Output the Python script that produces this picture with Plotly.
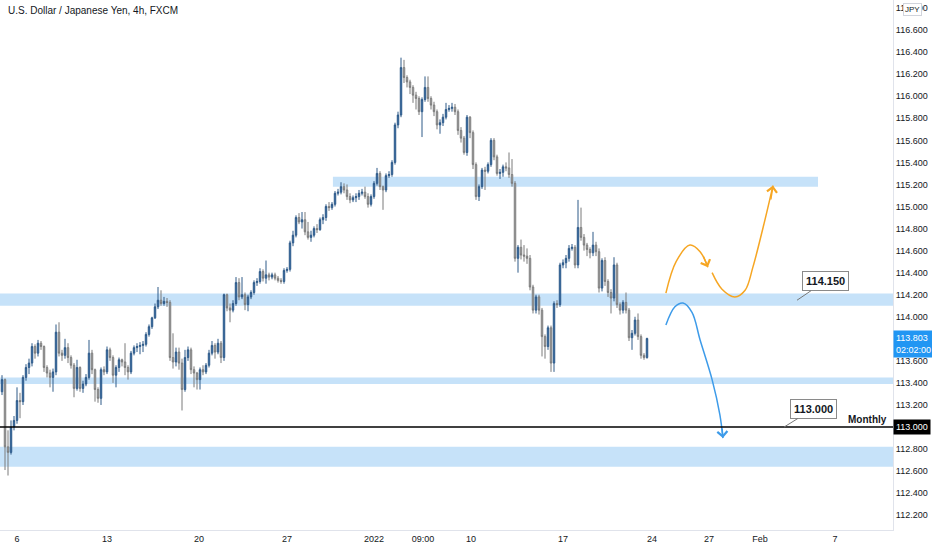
import plotly.graph_objects as go

# ---- data (4h USD/JPY candles) ----
opens = [113.32,113.43,112.82,112.77,113.00,113.06,113.24,113.23,113.45,113.54,113.58,113.73,113.67,113.76,113.73,113.54,113.49,113.45,113.50,113.86,
113.67,113.65,113.72,113.63,113.56,113.35,113.54,113.35,113.39,113.45,113.67,113.52,113.34,113.26,113.52,113.50,113.70,113.63,113.47,113.54,
113.61,113.59,113.54,113.50,113.67,113.72,113.73,113.74,113.75,113.84,113.91,113.99,114.09,114.15,114.12,114.14,114.13,113.63,113.59,113.68,
113.58,113.34,113.63,113.70,113.52,113.49,113.43,113.52,113.50,113.56,113.67,113.74,113.68,113.76,113.63,114.20,114.08,114.06,114.12,114.31,
114.18,114.20,114.11,114.18,114.22,114.31,114.32,114.41,114.35,114.38,114.36,114.38,114.35,114.33,114.32,114.42,114.43,114.67,114.74,114.90,
114.86,114.88,114.77,114.72,114.74,114.80,114.79,114.88,114.90,115.00,114.99,115.02,115.12,115.13,115.18,115.15,115.09,115.06,115.08,115.09,
115.12,115.13,115.09,115.02,115.09,115.21,115.30,115.18,115.15,115.28,115.29,115.40,115.74,115.83,116.26,116.17,116.13,116.08,116.01,115.98,
115.86,115.97,116.08,115.98,115.92,115.86,115.74,115.76,115.81,115.88,115.89,115.90,115.86,115.69,115.62,115.49,115.81,115.67,115.38,115.09,
115.18,115.33,115.32,115.38,115.60,115.45,115.30,115.31,115.36,115.35,115.29,115.21,114.53,114.63,114.56,114.55,114.53,114.27,114.06,114.18,
114.06,113.82,113.73,113.90,113.58,114.12,114.11,114.47,114.49,114.53,114.62,114.63,114.47,114.81,114.72,114.65,114.61,114.58,114.65,114.59,
114.26,114.51,114.32,114.22,114.17,114.47,114.11,114.06,114.13,114.06,113.81,113.85,113.97,113.82,113.65,113.63]
highs = [113.47,113.44,112.97,113.06,113.10,113.36,113.31,113.47,113.57,113.62,113.76,113.75,113.79,113.78,113.74,113.56,113.52,113.53,113.93,113.95,
113.70,113.80,113.76,113.65,113.58,113.61,113.55,113.42,113.48,113.79,113.70,113.53,113.36,113.54,113.55,113.73,113.72,113.65,113.56,113.63,
113.62,113.76,113.56,113.69,113.74,113.76,113.77,113.78,113.86,113.93,114.00,114.12,114.27,114.24,114.18,114.17,114.15,113.85,113.72,113.72,
113.62,113.70,113.73,113.72,113.55,113.50,113.54,113.56,113.58,113.70,113.78,113.76,113.80,113.78,114.21,114.21,114.12,114.15,114.36,114.35,
114.36,114.22,114.20,114.24,114.33,114.35,114.44,114.43,114.51,114.40,114.40,114.40,114.37,114.35,114.44,114.45,114.69,114.78,114.92,114.94,
114.95,114.95,114.86,114.78,114.82,114.84,114.90,114.93,115.02,115.04,115.04,115.14,115.16,115.22,115.21,115.20,115.12,115.10,115.12,115.15,
115.16,115.18,115.12,115.11,115.23,115.35,115.32,115.19,115.30,115.32,115.42,115.76,115.86,116.35,116.33,116.19,116.15,116.10,116.04,116.00,
115.99,116.18,116.18,116.00,115.95,115.88,115.79,115.84,115.94,115.92,115.94,115.93,115.88,115.72,115.64,115.83,115.82,115.69,115.40,115.20,
115.35,115.36,115.40,115.62,115.62,115.47,115.34,115.38,115.40,115.49,115.43,115.23,114.65,114.70,114.65,114.62,114.56,114.29,114.20,114.20,
114.08,113.84,113.92,113.92,114.14,114.15,114.49,114.52,114.56,114.65,114.66,114.65,115.06,114.99,114.75,114.67,114.63,114.77,114.68,114.62,
114.53,114.54,114.34,114.25,114.54,114.49,114.13,114.15,114.22,114.08,113.88,114.00,114.03,113.84,113.67,113.81]
lows = [113.29,112.61,112.56,112.75,112.97,113.03,113.08,113.20,113.42,113.48,113.55,113.62,113.64,113.70,113.50,113.45,113.36,113.32,113.47,113.64,
113.60,113.62,113.58,113.53,113.27,113.33,113.32,113.31,113.37,113.43,113.48,113.23,113.22,113.20,113.47,113.48,113.60,113.40,113.36,113.50,
113.55,113.47,113.43,113.48,113.65,113.68,113.66,113.68,113.73,113.82,113.89,113.98,114.07,114.10,114.10,114.09,113.60,113.53,113.55,113.52,
113.15,113.32,113.60,113.48,113.36,113.34,113.34,113.47,113.48,113.54,113.65,113.62,113.66,113.58,113.60,114.05,113.95,114.04,114.10,114.15,
114.16,114.06,114.05,114.16,114.20,114.28,114.30,114.32,114.30,114.33,114.34,114.33,114.31,114.30,114.30,114.40,114.41,114.64,114.72,114.84,
114.80,114.74,114.70,114.68,114.72,114.76,114.78,114.84,114.87,114.96,114.97,115.00,115.10,115.11,115.12,115.06,115.03,115.04,115.04,115.06,
115.10,115.07,114.99,115.00,115.07,115.19,115.15,114.97,115.13,115.26,115.27,115.38,115.71,115.81,116.12,116.08,116.02,115.94,115.88,115.83,
115.63,115.95,115.95,115.88,115.82,115.70,115.66,115.73,115.79,115.86,115.86,115.83,115.65,115.58,115.47,115.46,115.62,115.34,115.06,115.05,
115.16,115.15,115.30,115.36,115.42,115.28,115.25,115.27,115.32,115.26,115.18,114.50,114.40,114.52,114.50,114.48,114.24,114.03,114.03,114.02,
113.64,113.62,113.70,113.50,113.50,114.08,114.09,114.44,114.44,114.50,114.60,114.44,114.44,114.69,114.60,114.55,114.53,114.55,114.55,114.22,
114.23,114.28,114.18,114.03,114.14,114.08,114.02,114.03,114.03,113.78,113.70,113.83,113.79,113.62,113.61,113.62]
closes = [113.43,112.82,112.77,113.00,113.06,113.24,113.23,113.45,113.54,113.58,113.73,113.67,113.76,113.73,113.54,113.49,113.45,113.50,113.86,113.67,
113.65,113.72,113.63,113.56,113.35,113.54,113.35,113.39,113.45,113.67,113.52,113.34,113.26,113.52,113.50,113.70,113.63,113.47,113.54,113.61,
113.59,113.54,113.50,113.67,113.72,113.73,113.74,113.75,113.84,113.91,113.99,114.09,114.15,114.12,114.14,114.13,113.63,113.59,113.68,113.58,
113.34,113.63,113.70,113.52,113.49,113.43,113.52,113.50,113.56,113.67,113.74,113.68,113.76,113.63,114.20,114.08,114.06,114.12,114.31,114.18,
114.20,114.11,114.18,114.22,114.31,114.32,114.41,114.35,114.38,114.36,114.38,114.35,114.33,114.32,114.42,114.43,114.67,114.74,114.90,114.86,
114.88,114.77,114.72,114.74,114.80,114.79,114.88,114.90,115.00,114.99,115.02,115.12,115.13,115.18,115.15,115.09,115.06,115.08,115.09,115.12,
115.13,115.09,115.02,115.09,115.21,115.30,115.18,115.15,115.28,115.29,115.40,115.74,115.83,116.26,116.17,116.13,116.08,116.01,115.98,115.86,
115.97,116.08,115.98,115.92,115.86,115.74,115.76,115.81,115.88,115.89,115.90,115.86,115.69,115.62,115.49,115.81,115.67,115.38,115.09,115.18,
115.33,115.32,115.38,115.60,115.45,115.30,115.31,115.36,115.35,115.29,115.21,114.53,114.63,114.56,114.55,114.53,114.27,114.06,114.18,114.06,
113.82,113.73,113.90,113.58,114.12,114.11,114.47,114.49,114.53,114.62,114.63,114.47,114.81,114.72,114.65,114.61,114.58,114.65,114.59,114.26,
114.51,114.32,114.22,114.17,114.47,114.11,114.06,114.13,114.06,113.81,113.85,113.97,113.82,113.65,113.63,113.803]
bar_index = list(range(len(closes)))

tick_positions = [5, 35, 65.7, 95, 124, 140.3, 156.3, 187, 216.7, 235.7, 252.7, 277.7]
tick_labels = ["6", "13", "20", "27", "2022", "09:00", "10", "17", "24", "27", "Feb", "7"]

# zones (price bands) and levels
zone_upper = (115.18, 115.27)
zone_upper_x = (110.3, 272)
zones_full = [(114.10, 114.21), (113.39, 113.45), (112.64, 112.82)]
monthly_level = 113.000
level_label_114 = 114.150
last_price = 113.803

# projected paths (bar index, price)
orange1_x = [221.3, 224.7, 229.3, 232.7, 235.3]
orange1_y = [114.215, 114.50, 114.65, 114.59, 114.45]
orange2_x = [236.7, 240.0, 244.3, 247.7, 250.3, 253.7, 257.0]
orange2_y = [114.40, 114.25, 114.18, 114.24, 114.45, 114.81, 115.19]
blue_x = [221.3, 224.3, 227.0, 230.0, 232.7, 236.7, 239.3, 240.3]
blue_y = [113.925, 114.09, 114.125, 114.04, 113.79, 113.43, 113.11, 112.90]

FONT = "Liberation Sans Narrow, Liberation Sans, Arial, sans-serif"
ORANGE = "#f6a623"
BLUE = "#3d9be9"
ZONE = "#c6e2f9"

fig = go.Figure()
fig.add_trace(go.Candlestick(
    x=bar_index, open=opens, high=highs, low=lows, close=closes,
    increasing=dict(fillcolor="#2f6eb2", line=dict(color="#2f5a88", width=1)),
    decreasing=dict(fillcolor="#c2c2c2", line=dict(color="#7a7a7a", width=1)),
    whiskerwidth=0, showlegend=False, hoverinfo="skip",
))
fig.add_trace(go.Scatter(x=orange1_x, y=orange1_y, mode="lines", line=dict(color=ORANGE, width=1.5, shape="spline"), showlegend=False, hoverinfo="skip"))
fig.add_trace(go.Scatter(x=orange2_x, y=orange2_y, mode="lines", line=dict(color=ORANGE, width=1.5, shape="spline"), showlegend=False, hoverinfo="skip"))
fig.add_trace(go.Scatter(x=blue_x, y=blue_y, mode="lines", line=dict(color=BLUE, width=1.5, shape="spline"), showlegend=False, hoverinfo="skip"))

shapes = []
shapes.append(dict(type="rect", xref="x", yref="y", x0=zone_upper_x[0], x1=zone_upper_x[1],
                   y0=zone_upper[0], y1=zone_upper[1], fillcolor=ZONE, line=dict(width=0), layer="below"))
for lo, hi in zones_full:
    shapes.append(dict(type="rect", xref="paper", yref="y", x0=0, x1=1, y0=lo, y1=hi,
                       fillcolor=ZONE, line=dict(width=0), layer="below"))
shapes.append(dict(type="line", xref="paper", yref="y", x0=0, x1=1, y0=monthly_level, y1=monthly_level,
                   line=dict(color="#000000", width=1.5)))

annotations = []
# arrowheads
for (tx, ty, ax_, ay_, col) in [
    (orange1_x[-1], orange1_y[-1], 233.6, 114.56, ORANGE),
    (orange2_x[-1], orange2_y[-1], 256.2, 115.05, ORANGE),
    (blue_x[-1], blue_y[-1], 240.0, 113.00, BLUE),
]:
    annotations.append(dict(x=tx, y=ty, ax=ax_, ay=ay_, xref="x", yref="y", axref="x", ayref="y",
                            text="", showarrow=True, arrowhead=4, arrowsize=1.3, arrowwidth=1.5, arrowcolor=col))
# callouts
annotations.append(dict(x=265, y=level_label_114, xref="x", yref="y", text="<b>114.150</b>",
                        showarrow=True, arrowhead=0, arrowwidth=1, arrowcolor="#777777", ax=28, ay=-19,
                        bgcolor="#ffffff", bordercolor="#8a8a8a", borderwidth=1, borderpad=3,
                        font=dict(family=FONT, size=11, color="#131722")))
annotations.append(dict(x=260.7, y=monthly_level, xref="x", yref="y", text="<b>113.000</b>",
                        showarrow=True, arrowhead=0, arrowwidth=1, arrowcolor="#777777", ax=29, ay=-18,
                        bgcolor="#ffffff", bordercolor="#8a8a8a", borderwidth=1, borderpad=3,
                        font=dict(family=FONT, size=11, color="#131722")))
annotations.append(dict(x=0.995, y=monthly_level, xref="paper", yref="y", text="<b>Monthly</b>",
                        xanchor="right", yanchor="bottom", showarrow=False, yshift=0,
                        font=dict(family=FONT, size=10, color="#131722")))
# price labels on the axis
annotations.append(dict(x=1, y=monthly_level, xref="paper", yref="y", text="113.000", xanchor="left",
                        showarrow=False, bgcolor="#000000", borderpad=2, xshift=0,
                        font=dict(family=FONT, size=9, color="#ffffff")))
annotations.append(dict(x=1, y=last_price, xref="paper", yref="y", text="113.803<br>02:02:00", xanchor="left",
                        yanchor="top", yshift=8, showarrow=False, bgcolor="#2196f3", borderpad=2, xshift=0, align="left",
                        font=dict(family=FONT, size=9, color="#ffffff")))
# title and currency badge
annotations.append(dict(x=0.0065, y=0.995, xref="paper", yref="paper", xanchor="left", yanchor="top",
                        text="U.S. Dollar / Japanese Yen, 4h, FXCM",
                        showarrow=False, font=dict(family=FONT, size=10, color="#131722")))
annotations.append(dict(x=1, y=0.995, xref="paper", yref="paper", text="JPY", xanchor="left", yanchor="top",
                        xshift=10, showarrow=False, bgcolor="#ffffff", bordercolor="#d1d4dc", borderwidth=1, borderpad=1,
                        font=dict(family=FONT, size=8, color="#131722")))

fig.update_layout(
    width=932, height=550,
    margin=dict(l=0, r=39, t=0, b=20, autoexpand=False),
    paper_bgcolor="#ffffff", plot_bgcolor="#ffffff",
    shapes=shapes, annotations=annotations,
    font=dict(family=FONT, size=9, color="#131722"),
    xaxis=dict(range=[-0.67, 297], tickmode="array", tickvals=tick_positions, ticktext=tick_labels,
               showgrid=False, zeroline=False, showline=True, linecolor="#e0e3eb", linewidth=1,
               ticks="", tickfont=dict(family=FONT, size=9, color="#131722"), automargin=False,
               rangeslider=dict(visible=False), fixedrange=True),
    yaxis=dict(side="right", range=[112.066, 116.873], dtick=0.2, tick0=112.2, tickformat=".3f",
               showgrid=False, zeroline=False, showline=True, linecolor="#e0e3eb", linewidth=1,
               ticks="", tickfont=dict(family=FONT, size=9, color="#131722"), automargin=False,
               fixedrange=True),
)

fig.write_html("out.html", config={"displayModeBar": False},
               post_script="document.body.style.margin='0';document.body.style.padding='0';")
